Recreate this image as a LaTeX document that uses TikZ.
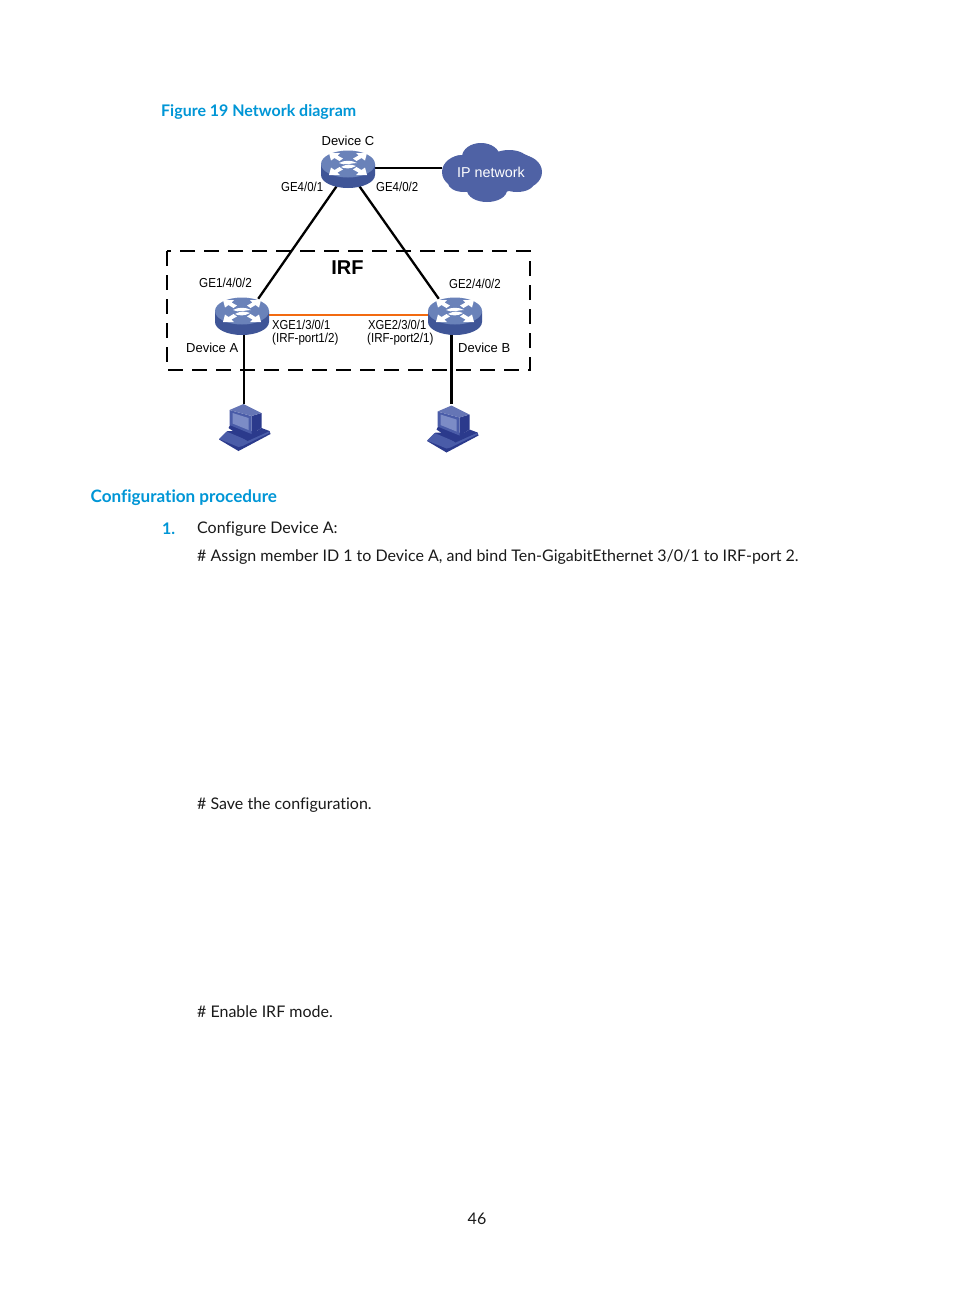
\documentclass[tikz,border=0pt]{standalone}
\usepackage{fontspec}
\setmainfont[Ligatures=NoCommon]{Lato}
\newfontfamily\arialf{Liberation Sans}
\usetikzlibrary{shapes.geometric}
\definecolor{hpblue}{HTML}{0096D6}
\definecolor{swbody}{HTML}{3F5597}
\definecolor{swtop}{HTML}{6A82B9}
\definecolor{cloudc}{HTML}{4F62A5}
\definecolor{pcmid}{HTML}{4A5CA8}
\definecolor{pcdark}{HTML}{2B3A8C}
\definecolor{pclight}{HTML}{7C8CC6}
\definecolor{bodytxt}{HTML}{1A1A1A}
\definecolor{irfor}{HTML}{F26A10}
\newcommand\nrw[2]{\scalebox{#1}[1]{#2}}
\tikzset{
  anchorbox/.style={ellipse,minimum width=54pt,minimum height=40pt,inner sep=0pt,draw=none},
  link/.style={draw=black,line width=2.3pt},
  irflink/.style={draw=irfor,line width=2pt},
  irfbox/.style={draw=black,line width=2pt,dash pattern=on 15pt off 9pt},
  lab/.style={font=\arialf\fontsize{13}{15}\selectfont,inner sep=0pt,text=black,anchor=west},
  heading/.style={font=\bfseries,text=hpblue,inner sep=0pt,anchor=west},
  bodyt/.style={font=\fontsize{16}{20}\selectfont,text=bodytxt,inner sep=0pt,anchor=west},
  switchicon/.pic={
    \fill[swbody] (-27,0) -- (-27,11) arc[start angle=180,end angle=360,x radius=27,y radius=-13] -- (27,0) -- cycle;
    \fill[swtop] (0,0) ellipse[x radius=27,y radius=13.5];
    \foreach \sx/\sy in {1/1,-1/1,1/-1,-1/-1}{
      \begin{scope}[xscale=\sx,yscale=\sy]
      \fill[white] (-19,-11) -- (-8,-11) -- (-10.5,-8.5) -- (-5,-5.5) -- (-8.5,-3) -- (-13.5,-6) -- (-17,-3.5) -- cycle;
      \end{scope}
    }
    \fill[white] (-9,-1) .. controls (-4,-4) and (4,-4) .. (9,-1) .. controls (4,-1) and (-4,2) .. (-9,-1) -- cycle;
    \fill[white] (-7,3) .. controls (-2,0) and (3,0) .. (8,2) .. controls (3,5) and (-3,5) .. (-7,3) -- cycle;
  },
  pcicon/.pic={
    % keyboard / base
    \fill[pcdark] (-24.5,35.5) -- (-16,27) -- (26,27) -- (27,30) -- (-5,47) -- cycle;
    \fill[pcmid] (-24.5,35) -- (-17,27.5) -- (3,36) -- (26,27) -- (26,29) -- (-1,42) -- (-5,43) -- cycle;
    \fill[pcdark] (-15,24) -- (-13,20) -- (8,30) -- (18,24) -- (26,27) -- (4,37) -- cycle;
    % monitor
    \fill[pcdark] (8,12) -- (18,9) -- (18,24) -- (8,30) -- cycle;
    \fill[pcmid] (-14,6) -- (8,12) -- (8,30) -- (-14,21) -- cycle;
    \fill[pcmid!85!white] (0,0) -- (18,9) -- (8,12) -- (-14,6) -- cycle;
    \fill[pclight] (-11,9) -- (5,14) -- (5,26) -- (-11,19.5) -- cycle;
  }
}
\begin{document}
\begin{tikzpicture}[x=1pt,y=-1pt]
\useasboundingbox (0,0) rectangle (954,1296);
\fill[white] (0,0) rectangle (954,1296);

% anchors for connectors
\node[anchorbox] (devC) at (348,168) {};
\node[anchorbox] (devA) at (242,315) {};
\node[anchorbox] (devB) at (455,315) {};
\node[anchorbox,minimum width=100pt,minimum height=56pt,draw=none] (cloud) at (492,168) {};
\coordinate (pcA) at (244,404);
\coordinate (pcB) at (451.5,404);
\coordinate (dA) at (244,315);
\coordinate (dB) at (451.5,315);

% IRF box
\node[draw=none,inner sep=0pt,minimum width=0pt] (boxnw) at (167,251) {};
\node[draw=none,inner sep=0pt,minimum width=0pt] (boxse) at (530,370) {};
\draw[irfbox] (boxnw) rectangle (boxse);

% connectors
\draw[link] (devC.238) -- (devA.45);
\draw[link] (devC.302) -- (devB.135);
\draw[link] (devC.east) -- (cloud.west);
\draw[irflink] (devA.east) -- (devB.west);
\draw[line width=2pt,draw=black] (dA) -- (pcA);
\draw[line width=3pt,draw=black] (dB) -- (pcB);

% devices
\pic at (348,164) {switchicon};
\pic at (242,311) {switchicon};
\pic at (455,311) {switchicon};
\pic at (243.5,404) {pcicon};
\pic at (451.5,405.5) {pcicon};

% cloud
\begin{scope}[cloudc]
\fill (492,172.5) ellipse[x radius=36,y radius=21];
\fill (463,172) ellipse[x radius=21,y radius=17];
\fill (521,172) ellipse[x radius=21,y radius=17];
\fill (481,157) ellipse[x radius=19,y radius=14];
\fill (509,160) ellipse[x radius=19,y radius=10];
\fill (462,164) ellipse[x radius=13,y radius=9];
\fill (521,164) ellipse[x radius=13,y radius=10];
\fill (487,190) ellipse[x radius=20,y radius=12];
\fill (464,183) ellipse[x radius=16,y radius=9];
\fill (517,183) ellipse[x radius=17,y radius=9];
\end{scope}

% figure labels
\node[lab,anchor=center,font=\arialf\fontsize{14.3}{16}\selectfont,text=white] (tCloud) at (491,172) {IP network};
\node[lab,anchor=center] (tC) at (348,141) {Device C};
\node[lab] (t1) at (281,186.5) {\nrw{.88}{GE4/0/1}};
\node[lab] (t2) at (376,186.5) {\nrw{.88}{GE4/0/2}};
\node[lab,anchor=center,font=\arialf\bfseries\fontsize{20}{22}\selectfont] (tIRF) at (347.5,267.5) {IRF};
\node[lab] (t3) at (199,282.5) {\nrw{.9}{GE1/4/0/2}};
\node[lab] (t4) at (449,284) {\nrw{.88}{GE2/4/0/2}};
\node[lab] (t5) at (272,325) {\nrw{.865}{XGE1/3/0/1}};
\node[lab] (t6) at (272,339.5) {\nrw{.89}{(IRF-port1/2)}};
\node[lab] (t7) at (368,325) {\nrw{.865}{XGE2/3/0/1}};
\node[lab] (t8) at (367,339.5) {\nrw{.89}{(IRF-port2/1)}};
\node[lab] (t9) at (186,347.5) {Device A};
\node[lab] (t10) at (458,347.5) {Device B};

% page text
\node[heading,font=\bfseries\fontsize{16}{20}\selectfont] (h1) at (161,112) {Figure 19 Network diagram};
\node[heading,font=\bfseries\fontsize{17.1}{22}\selectfont] (h2) at (90.5,497.5) {Configuration procedure};
\node[heading,font=\bfseries\fontsize{16}{20}\selectfont] (n1) at (162,528.5) {1.};
\node[bodyt] (b1) at (197,529) {Configure Device A:};
\node[bodyt] (b2) at (197,557) {\# Assign member ID 1 to Device A, and bind Ten-GigabitEthernet 3/0/1 to IRF-port 2.};
\node[bodyt] (b3) at (197,805) {\# Save the configuration.};
\node[bodyt] (b4) at (197,1012) {\# Enable IRF mode.};
\node[bodyt,anchor=center] (pg) at (477,1219) {46};
\end{tikzpicture}
\end{document}
